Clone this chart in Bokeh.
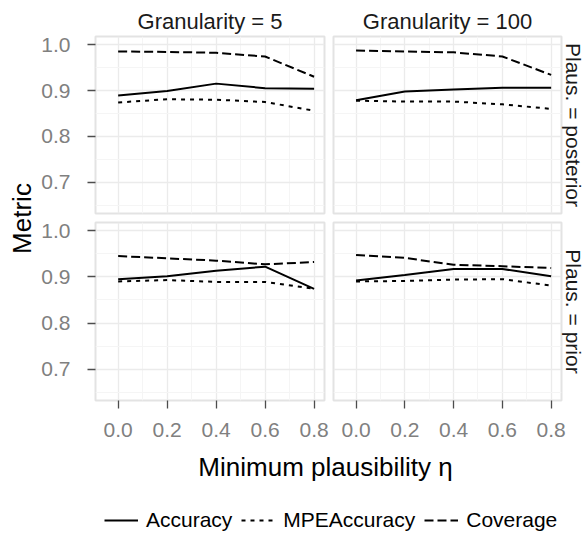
from math import pi
from bokeh.plotting import figure
from bokeh.layouts import row, column
from bokeh.models import (ColumnDataSource, Range1d, FixedTicker, LinearAxis, Label,
                          Legend, LegendItem, PrintfTickFormatter)
from bokeh.embed import file_html
from bokeh.resources import INLINE

# ---------------- data ----------------
eta = [0.0, 0.2, 0.4, 0.6, 0.8]
x_ticks = [0.0, 0.2, 0.4, 0.6, 0.8]
x_minor = [0.1, 0.3, 0.5, 0.7]
y_ticks = [0.7, 0.8, 0.9, 1.0]
y_minor = [0.65, 0.75, 0.85, 0.95]
granularities = ["5", "100"]
plausibilities = ["posterior", "prior"]
metrics = ["Accuracy", "MPEAccuracy", "Coverage"]

acc_g5_posterior = [0.889, 0.899, 0.915, 0.905, 0.904]
mpe_g5_posterior = [0.874, 0.881, 0.880, 0.875, 0.856]
cov_g5_posterior = [0.985, 0.984, 0.982, 0.974, 0.930]

acc_g100_posterior = [0.879, 0.898, 0.902, 0.906, 0.906]
mpe_g100_posterior = [0.878, 0.876, 0.876, 0.870, 0.860]
cov_g100_posterior = [0.987, 0.985, 0.983, 0.974, 0.934]

acc_g5_prior = [0.895, 0.901, 0.913, 0.922, 0.874]
mpe_g5_prior = [0.890, 0.893, 0.889, 0.889, 0.874]
cov_g5_prior = [0.945, 0.940, 0.935, 0.927, 0.932]

acc_g100_prior = [0.892, 0.904, 0.917, 0.917, 0.901]
mpe_g100_prior = [0.890, 0.891, 0.894, 0.895, 0.881]
cov_g100_prior = [0.947, 0.941, 0.926, 0.923, 0.919]

panel_data = {
    ("5", "posterior"): (acc_g5_posterior, mpe_g5_posterior, cov_g5_posterior),
    ("100", "posterior"): (acc_g100_posterior, mpe_g100_posterior, cov_g100_posterior),
    ("5", "prior"): (acc_g5_prior, mpe_g5_prior, cov_g5_prior),
    ("100", "prior"): (acc_g100_prior, mpe_g100_prior, cov_g100_prior),
}

# ---------------- style ----------------
FONT = "Liberation Sans"
DASHES = ["solid", "4 5", "9 4"]
TICK_COLOR = "#808080"


def style_axis_hidden(ax, size):
    ax.major_tick_out = 0
    ax.major_tick_in = 0
    ax.minor_tick_out = 0
    ax.minor_tick_in = 0
    ax.axis_line_color = None
    ax.major_label_text_font_size = "0px"
    ax.major_label_standoff = 0
    ax.axis_label_text_font = FONT
    ax.axis_label_text_font_size = size
    ax.axis_label_text_font_style = "normal"
    ax.axis_label_text_color = "#1a1a1a"


def style_tick_axis(ax, standoff):
    ax.major_tick_out = 8
    ax.major_tick_in = 0
    ax.minor_tick_out = 0
    ax.minor_tick_in = 0
    ax.axis_line_color = None
    ax.major_tick_line_color = "#4d4d4d"
    ax.major_tick_line_width = 1.3
    ax.major_label_text_font = FONT
    ax.major_label_text_font_size = "21px"
    ax.major_label_text_color = TICK_COLOR
    ax.major_label_standoff = standoff
    ax.formatter = PrintfTickFormatter(format="%.1f")


def make_panel(gi, pi_):
    g = granularities[gi]
    pl = plausibilities[pi_]
    left = gi == 0
    top = pi_ == 0
    p = figure(frame_width=229 if left else 228,
               frame_height=177 if top else 178,
               x_range=Range1d(-0.0925, 0.8425), y_range=Range1d(0.6325, 1.0175),
               x_axis_location=None if top else "below",
               y_axis_location="left" if left else None,
               output_backend="svg", toolbar_location=None, title=None,
               min_border_left=55 if left else 4,
               min_border_right=5 if left else 0,
               min_border_top=36 if top else 5,
               min_border_bottom=4 if top else 46)
    p.background_fill_color = "white"
    p.outline_line_color = "#e3e3e3"
    p.outline_line_width = 2
    p.xgrid.ticker = FixedTicker(ticks=x_ticks, minor_ticks=x_minor)
    p.ygrid.ticker = FixedTicker(ticks=y_ticks, minor_ticks=y_minor)
    p.grid.grid_line_color = "#ebebeb"
    p.grid.grid_line_width = 1.3
    p.grid.minor_grid_line_color = "#f5f5f5"
    p.grid.minor_grid_line_width = 1

    if left:
        p.yaxis.ticker = FixedTicker(ticks=y_ticks, minor_ticks=[])
        style_tick_axis(p.yaxis[0], 17)
    if not top:
        p.xaxis.ticker = FixedTicker(ticks=x_ticks, minor_ticks=[])
        style_tick_axis(p.xaxis[0], 14)
    if top:
        ax = LinearAxis(ticker=FixedTicker(ticks=[]), axis_label=f"Granularity = {g}",
                        axis_label_standoff=3)
        style_axis_hidden(ax, "22px")
        p.add_layout(ax, "above")
    if not left:
        ax = LinearAxis(ticker=FixedTicker(ticks=[]), axis_label=f"Plaus. = {pl}",
                        axis_label_standoff=0)
        style_axis_hidden(ax, "21px")
        p.add_layout(ax, "right")

    acc, mpe, cov = panel_data[(g, pl)]
    src = ColumnDataSource(dict(eta=eta, acc=acc, mpe=mpe, cov=cov))
    for col, dash in zip(["acc", "mpe", "cov"], DASHES):
        p.line("eta", col, source=src, line_color="black", line_width=2, line_dash=dash)
    return p


TL = make_panel(0, 0)
TR = make_panel(1, 0)
BL = make_panel(0, 1)
BR = make_panel(1, 1)

# y title
yl = figure(frame_width=38, frame_height=446, x_range=Range1d(0, 38), y_range=Range1d(0, 446),
            x_axis_location=None, y_axis_location=None, min_border=0,
            output_backend="svg", toolbar_location=None, title=None)
yl.outline_line_color = None
yl.grid.visible = False
yl.add_layout(Label(x=21, y=228, text="Metric", angle=pi / 2, text_align="center",
                    text_baseline="middle", text_font=FONT, text_font_size="26px",
                    text_color="black"))

# footer: x title + legend
ft = figure(frame_width=584, frame_height=87, x_range=Range1d(0, 584), y_range=Range1d(0, 87),
            x_axis_location=None, y_axis_location=None, min_border=0,
            output_backend="svg", toolbar_location=None, title=None)
ft.outline_line_color = None
ft.grid.visible = False
ft.add_layout(Label(x=325, y=67, text="Minimum plausibility η", text_align="center",
                    text_baseline="middle", text_font=FONT, text_font_size="26px",
                    text_color="black"))
legend_src = ColumnDataSource(dict(eta=eta, acc=acc_g5_prior, mpe=mpe_g5_prior, cov=cov_g5_prior))
items = []
for m, col, dash in zip(metrics, ["acc", "mpe", "cov"], DASHES):
    r = ft.line("eta", col, source=legend_src, line_color="black", line_width=2,
                line_dash=dash, visible=False)
    items.append(LegendItem(label=m, renderers=[r]))
legend = Legend(items=items, orientation="horizontal", location=(104, 1),
                glyph_width=34, glyph_height=20, label_height=20, label_standoff=8,
                spacing=9, padding=0, margin=0, border_line_color=None,
                background_fill_alpha=0, label_text_font=FONT,
                label_text_font_size="21px", label_text_color="black",
                inactive_fill_alpha=0)
ft.add_layout(legend)

layout = column(row(yl, column(row(TL, TR), row(BL, BR))), ft)

open("out.html", "w").write(file_html(layout, INLINE))
